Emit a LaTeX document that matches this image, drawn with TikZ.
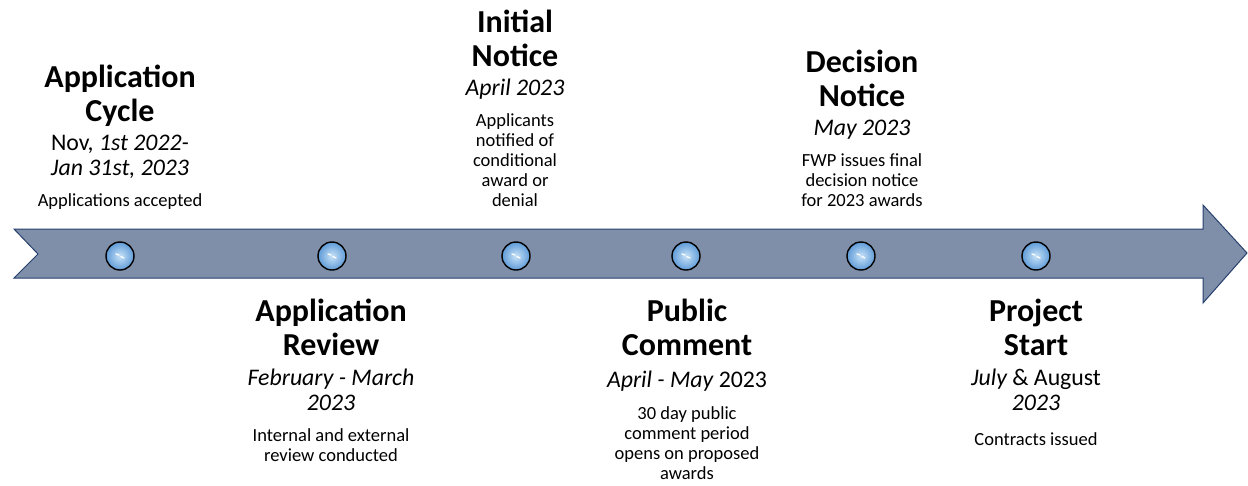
\documentclass[tikz,border=0pt]{standalone}
\usepackage{fontspec}
\setmainfont{Carlito}
\definecolor{arrowfill}{RGB}{127,143,169}
\definecolor{arrowline}{RGB}{38,64,110}
\definecolor{dotin}{RGB}{200,226,248}
\definecolor{dotout}{RGB}{95,155,215}
\tikzset{
  ttl/.style={font=\fontsize{32}{34}\selectfont\bfseries, align=center, inner sep=0pt,
    execute at begin node={\rule{0pt}{25pt}}, execute at end node={\rule[-8pt]{0pt}{8pt}}},
  dt/.style={font=\fontsize{23.8}{25}\selectfont\itshape, align=center, inner sep=0pt,
    execute at begin node={\rule{0pt}{18pt}}, execute at end node={\rule[-6pt]{0pt}{6pt}}},
  ds/.style={font=\fontsize{18.5}{20}\selectfont, align=center, inner sep=0pt,
    execute at begin node={\rule{0pt}{14pt}}, execute at end node={\rule[-5pt]{0pt}{5pt}}},
  top/.style={anchor=south},
  bot/.style={anchor=north},
  dot/.style={circle, draw=black, line width=1.4pt, minimum size=28pt, inner sep=0pt,
    inner color=dotin, outer color=dotout},
}
\begin{document}
\begin{tikzpicture}[x=1pt,y=1pt]
\useasboundingbox (0,0) rectangle (1248,-485);
% timeline arrow
\draw[fill=arrowfill, draw=arrowline, line width=1pt, line join=miter]
  (14,-229) -- (1203,-229) -- (1203,-205) -- (1247,-253) -- (1203,-303)
  -- (1203,-278) -- (14,-278) -- (38,-254) -- cycle;
% markers
\foreach \n/\x in {c1/120, c2/332, c3/516, c4/686, c5/861, c6/1036}{
  \node[dot] (\n) at (\x,-256) {};
  \draw[white, line width=1.3pt, line cap=round] ([shift={(-4,2)}]\n.center) -- ([shift={(-1,1)}]\n.center);
  \draw[white, line width=1.3pt, line cap=round] ([shift={(1,-0.5)}]\n.center) -- ([shift={(4,-2)}]\n.center);
}
% Application Cycle (top)
\node[ttl, top] (t1) at (120,-130) {Application\\Cycle};
\node[dt, top] (d1) at (120,-182) {{\upshape Nov,} 1st 2022-\\Jan 31st, 2023};
\node[ds, top] (s1) at (120,-212) {Applications accepted};
% Application Review (bottom)
\node[ttl, bot] (t2) at (331,-299) {Application\\Review};
\node[dt, bot] (d2) at (331,-369) {February - March\\2023};
\node[ds, bot] (s2) at (331,-428) {Internal and external\\review conducted};
% Initial Notice (top)
\node[ttl, top] (t3) at (515,-75) {Initial\\Notice};
\node[dt, top] (d3) at (515,-102) {April 2023};
\node[ds, top] (s3) at (515,-212) {Applicants\\notified of\\conditional\\award or\\denial};
% Public Comment (bottom)
\node[ttl, bot] (t4) at (687,-299) {Public\\Comment};
\node[dt, bot] (d4) at (687,-369) {April - May {\upshape 2023}};
\node[ds, bot] (s4) at (687,-406) {30 day public\\comment period\\opens on proposed\\awards};
% Decision Notice (top)
\node[ttl, top] (t5) at (862,-115) {Decision\\Notice};
\node[dt, top] (d5) at (862,-142) {May 2023};
\node[ds, top] (s5) at (862,-212) {FWP issues final\\decision notice\\for 2023 awards};
% Project Start (bottom)
\node[ttl, bot] (t6) at (1036,-299) {Project\\Start};
\node[dt, bot] (d6) at (1036,-369) {July {\upshape\& August}\\2023};
\node[ds, bot] (s6) at (1036,-431) {Contracts issued};
\end{tikzpicture}
\end{document}
